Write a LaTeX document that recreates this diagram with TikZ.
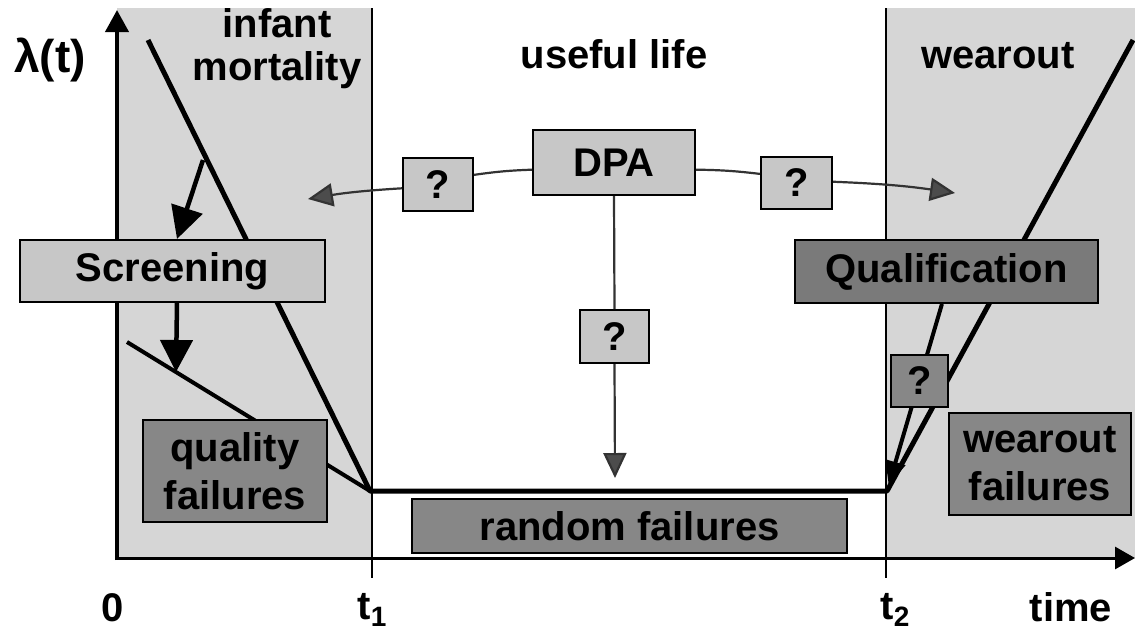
\documentclass[tikz,border=0pt]{standalone}
\usepackage{fontspec}
\setmainfont{Liberation Sans}
\usetikzlibrary{arrows.meta,positioning}
\pgfdeclarelayer{bg}
\pgfsetlayers{bg,main}
\tikzset{
  lbl/.style={font=\fontsize{40}{48}\selectfont\bfseries, inner sep=0pt},
  lightbox/.style={lbl, draw=black, line width=2pt, fill=black!22, align=center},
  darkbox/.style={lightbox, fill=black!47},
  fatarrow/.style={line width=4.5pt, -{Triangle[length=32pt,width=32pt]}},
  thinline/.style={line width=2.2pt, draw=black!80},
  thinarrow/.style={thinline, -{Triangle[length=25pt,width=23pt,fill=black!70]}},
}

\begin{document}
\begin{tikzpicture}[x=1pt,y=-1pt]
\useasboundingbox (0,0) rectangle (1135,633);

% boxes
\node[lightbox, minimum width=305pt, minimum height=62pt] (screen) at (172.5,271) {Screening};
\node[darkbox, minimum width=184pt, minimum height=102pt] (quality) at (235,471) {quality\\failures};
\node[darkbox, minimum width=435pt, minimum height=54pt] (random) at (629.5,526) {random failures};
\node[darkbox, minimum width=182pt, minimum height=102pt] (wfail) at (1040,464) {wearout\\failures};
\node[darkbox, minimum width=303pt, minimum height=63pt, fill=black!52] (qual) at (946.5,271.5) {Qualification};
\node[lightbox, minimum width=162pt, minimum height=65pt] (dpa) at (614,162.5) {DPA};
\node[lightbox, minimum width=70pt, minimum height=53pt] (qleft) at (438,184.5) {?};
\node[lightbox, minimum width=71pt, minimum height=52pt] (qright) at (796.5,183) {?};
\node[lightbox, minimum width=69pt, minimum height=53pt] (qmid) at (614.5,336.5) {?};
\node[darkbox, minimum width=57pt, minimum height=52pt] (qwear) at (919.5,381) {?};

% labels
\node[lbl, anchor=base, font=\fontsize{46}{48}\selectfont\bfseries] (lam) at (50,72) {λ(t)};
\node[lbl, anchor=base] (infant) at (277,37) {infant};
\node[lbl, anchor=base] (mortal) at (277,80) {mortality};
\node[lbl, anchor=base] (useful) at (614,68) {useful life};
\node[lbl, anchor=base] (wear) at (998,68) {wearout};
\node[lbl, anchor=base] (zero) at (113,621) {0};
\node[lbl, anchor=base] (tone) at (372,619) {t\raisebox{-7pt}{\fontsize{28}{28}\selectfont 1}};
\node[lbl, anchor=base] (ttwo) at (895,619) {t\raisebox{-7pt}{\fontsize{28}{28}\selectfont 2}};
\node[lbl, anchor=base] (time) at (1071,621) {time};

\coordinate (kneeL) at (370,491);
\coordinate (kneeR) at (887,491);

\begin{pgfonlayer}{bg}
\fill[black!16] (117,8) rectangle (372,558);
\fill[black!16] (886,8) rectangle (1135,558);
\foreach \x in {372,886}
{
\draw[line width=1.5pt] (\x,8) -- (\x,578);
}
% axes
\draw[line width=3pt, -{Triangle[length=20pt,width=22pt]}] (115,558) -- (1135,558);
\draw[line width=4pt, -{Triangle[length=22pt,width=23pt]}] (117,560) -- (117,10);
% bathtub
\draw[line width=5pt, line join=round] (148,40) -- (kneeL) -- (kneeR) -- (1133,40);
\draw[line width=4pt] (127,342) -- (kneeL);
\draw[line width=4pt, -{Triangle[length=24pt,width=20pt]}, shorten >=6pt] (qual.262) -- (kneeR);
\end{pgfonlayer}

% screening arrows
\coordinate (scrfrom) at (203,160);
\coordinate (qualhit) at (176,372);
\draw[fatarrow] (scrfrom) -- (screen.82);
\draw[fatarrow] (screen.278) -- (qualhit);

% DPA arrows
\coordinate (leftend) at (308,199);
\coordinate (rightend) at (955,193);
\coordinate (randtip) at (615,478);
\draw[thinline] (dpa.185) to[bend right=3] (qleft.15);
\draw[thinarrow] (qleft.186) to[bend right=3] (leftend);
\draw[thinline] (dpa.355) to[bend left=3] (qright.166);
\draw[thinarrow] (qright.2) to[bend left=3] (rightend);
\draw[thinline] (dpa.south) -- (qmid.north);
\draw[thinarrow] (qmid.south) -- (randtip);

\end{tikzpicture}
\end{document}
